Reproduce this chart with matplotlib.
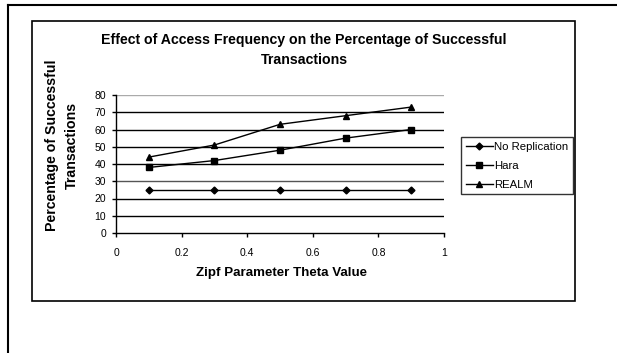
import matplotlib
matplotlib.use("Agg")
import matplotlib.pyplot as plt
from matplotlib.lines import Line2D
from matplotlib.patches import Rectangle

plt.rcParams['font.family'] = ['Liberation Sans', 'DejaVu Sans']

theta = [0.1, 0.3, 0.5, 0.7, 0.9]
no_replication = [25, 25, 25, 25, 25]
hara = [38, 42, 48, 55, 60]
realm = [44, 51, 63, 68, 73]
series_names = ["No Replication", "Hara", "REALM"]
title = "Effect of Access Frequency on the Percentage of Successful\nTransactions"
xlabel = "Zipf Parameter Theta Value"
ylabel = "Percentage of Successful\nTransactions"

W, H = 617, 353
fig = plt.figure(figsize=(W/100, H/100), dpi=100)

# outer frame (left and top only visible)
fig.add_artist(Line2D([8/W, 8/W], [0, 1-5/H], color='black', lw=1.5, transform=fig.transFigure))
fig.add_artist(Line2D([8/W, 1], [1-5/H, 1-5/H], color='black', lw=1.5, transform=fig.transFigure))
# inner chart box
fig.add_artist(Rectangle((32/W, 1-301/H), (575-32)/W, (301-21)/H, fill=False,
                         edgecolor='black', lw=1.2, transform=fig.transFigure))

ax = fig.add_axes([116/W, 1-233/H, (444-116)/W, (233-95)/H])
ax.plot(theta, no_replication, color='black', lw=1, marker='D', ms=3.5, label=series_names[0])
ax.plot(theta, hara, color='black', lw=1, marker='s', ms=5, label=series_names[1])
ax.plot(theta, realm, color='black', lw=1, marker='^', ms=5, label=series_names[2])

ax.set_xlim(0, 1)
ax.set_ylim(0, 80)
ax.set_xticks([0, 0.2, 0.4, 0.6, 0.8, 1])
ax.set_xticklabels(['0', '0.2', '0.4', '0.6', '0.8', '1'])
ax.set_yticks(range(0, 81, 10))
for y in range(10, 81, 10):
    c = '#aaaaaa' if y == 80 else ('#555555' if y == 30 else 'black')
    ax.axhline(y, color=c, lw=1, zorder=0)
for s in ['top', 'right']:
    ax.spines[s].set_visible(False)
ax.spines['left'].set_linewidth(1)
ax.spines['bottom'].set_linewidth(1)
ax.tick_params(axis='both', labelsize=7.5, length=3, width=1, direction='out', pad=4)
ax.tick_params(axis='x', pad=8)

fig.text(304/W, 1-50/H, title, ha='center', va='center', fontsize=10.2, fontweight='bold', linespacing=1.6)
fig.text(282/W, 1-273/H, xlabel, ha='center', va='center', fontsize=9.6, fontweight='bold')
fig.text(62/W, 1-145/H, ylabel, ha='center', va='center', rotation=90, fontsize=10.2, fontweight='bold', linespacing=1.55)

leg = fig.legend(loc='upper left', bbox_to_anchor=(461/W, 1-137/H), fontsize=8.2,
                 frameon=True, fancybox=False, edgecolor='black', handlelength=2.4,
                 handletextpad=0.1, borderpad=0.4, labelspacing=0.8, borderaxespad=0)
leg.get_frame().set_linewidth(1)

fig.savefig("out.png", dpi=100)
